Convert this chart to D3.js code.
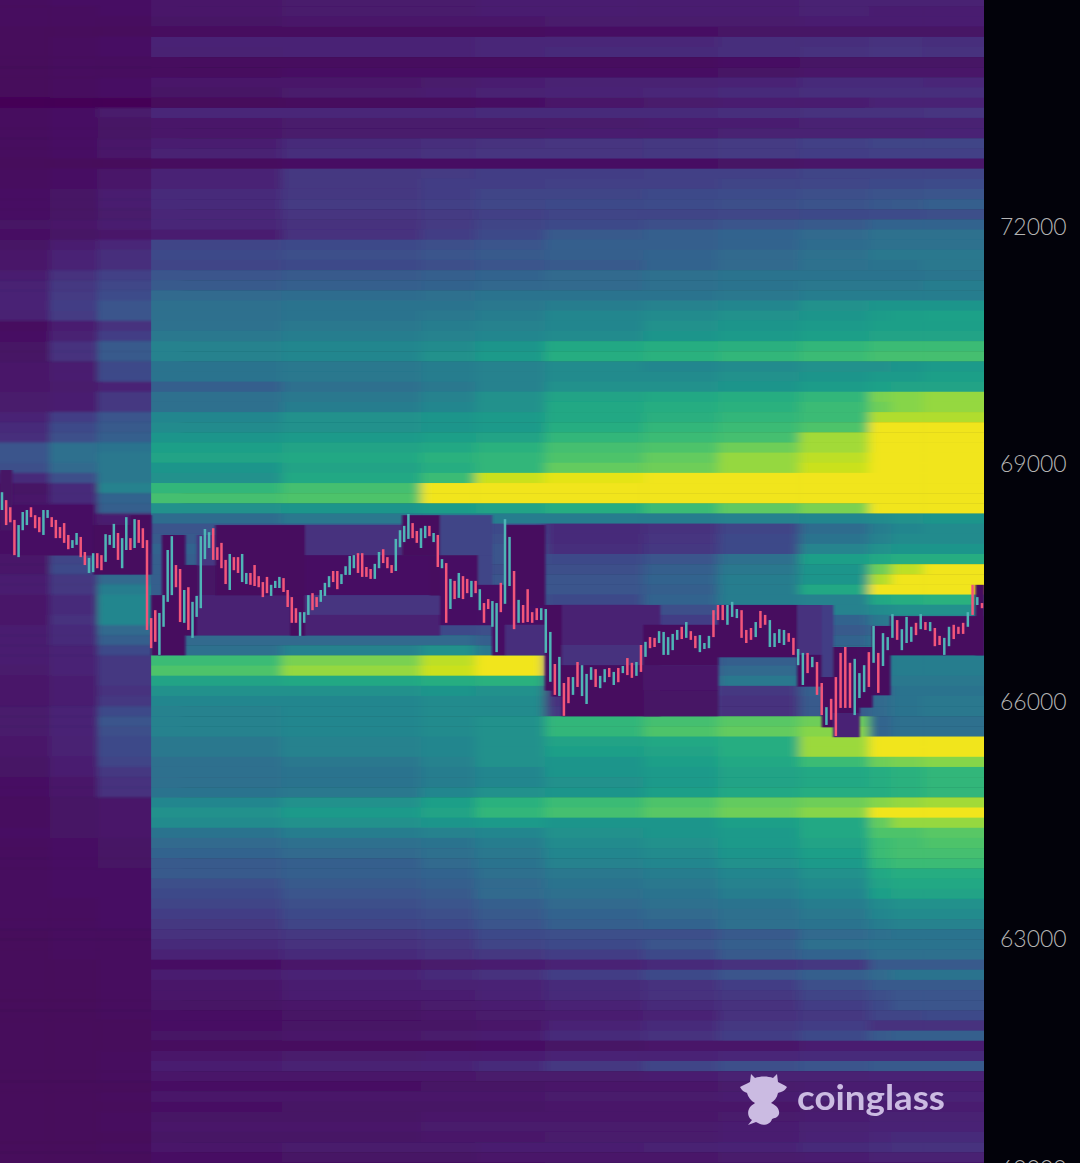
<!DOCTYPE html>
<html>
<head>
<meta charset="utf-8">
<script src="https://cdn.jsdelivr.net/npm/d3@7/dist/d3.min.js"></script>
<style>
  html, body { margin: 0; padding: 0; background: #02020a; overflow: hidden; }
  svg { display: block; }
</style>
</head>
<body>
<script>
var width = 1080, height = 1163, plotRight = 984;

var tickPrices = [72000, 69000, 66000, 63000, 60100];
var tickLabels = ['72000', '69000', '66000', '63000', '60000'];

// column boundaries of the heat map, in bar index
var colEdges = [-0.5, 11.4, 23, 36, 67.5, 101, 113.9, 129.8, 151.5, 168, 185.2, 200, 204.7, 211.5, 224.5];

// liquidation intensity 0-100, one line per price bin, top to bottom
var heat = [
[3,4,4,6,7,7,8,8,8,8,9,9,9,9],
[3,3,4,6,7,7,8,8,8,8,9,8,8,8],
[3,3,3,5,6,6,6,7,7,7,8,8,8,8],
[2,2,2,3,3,3,3,4,4,5,5,5,5,5],
[2,3,4,10,10,10,11,11,11,13,13,14,14,13],
[2,3,4,9,10,10,11,12,12,13,14,15,15,14],
[2,3,3,3,3,3,3,3,3,4,5,5,5,5],
[2,3,3,3,4,4,4,4,4,5,6,6,6,6],
[2,3,4,6,6,7,8,9,9,10,12,12,12,11],
[2,3,4,5,7,8,9,10,11,12,13,13,13,13],
[1,1,1,2,3,3,4,6,7,8,8,10,10,10],
[3,4,7,11,11,11,12,12,12,13,14,14,14,15],
[3,4,5,6,7,7,7,7,8,8,9,9,9,9],
[3,4,5,6,7,7,7,8,8,9,9,9,9,10],
[3,4,6,8,12,13,14,15,16,17,19,20,20,20],
[3,4,6,9,13,14,15,15,16,17,18,19,19,19],
[2,2,2,3,4,4,4,4,4,5,6,6,6,6],
[3,4,6,10,16,17,18,18,19,19,20,20,20,20],
[3,4,6,10,16,18,18,19,19,20,21,22,22,23],
[4,5,8,12,16,18,20,20,22,23,24,25,25,26],
[4,5,8,12,17,19,21,22,23,24,25,27,28,30],
[4,5,7,11,15,17,19,20,20,21,22,23,23,24],
[5,6,8,11,14,17,20,22,24,26,28,32,32,32],
[4,5,6,8,14,18,22,28,30,32,34,37,37,37],
[5,8,11,20,22,24,26,30,30,32,35,37,37,37],
[6,10,13,22,24,26,28,30,32,34,37,40,40,40],
[6,10,13,20,22,24,26,28,32,34,37,38,38,40],
[8,14,19,26,28,30,32,34,36,38,38,38,38,39],
[9,16,21,28,30,31,33,34,36,38,40,40,40,42],
[10,17,23,34,35,36,38,38,38,40,42,42,42,42],
[10,18,26,36,38,38,40,42,44,46,50,52,52,52],
[9,17,26,36,38,40,42,46,48,50,52,55,56,57],
[3,8,14,37,40,42,44,46,50,52,54,56,56,56],
[4,9,18,40,42,44,46,48,52,54,56,58,58,58],
[5,14,28,44,46,48,52,60,62,63,66,68,68,68],
[5,14,28,44,46,50,54,62,64,66,68,70,70,70],
[6,8,22,38,40,42,44,48,46,48,50,50,52,54],
[6,8,22,38,40,42,44,48,48,50,52,54,54,56],
[6,7,10,30,36,40,44,50,50,52,55,57,58,58],
[7,8,16,36,40,44,50,58,60,62,66,80,82,84],
[7,8,16,36,42,46,50,60,62,64,68,78,82,84],
[10,18,26,46,50,52,54,60,63,66,68,88,88,88],
[12,22,28,48,50,52,54,62,66,68,72,98,98,98],
[13,24,30,52,54,56,58,66,68,70,86,98,98,98],
[26,36,38,56,58,60,64,70,72,78,86,98,98,98],
[26,36,40,58,60,64,66,72,76,84,90,98,98,98],
[24,34,40,52,58,62,66,76,78,84,92,98,98,98],
[12,24,40,50,60,68,92,96,98,98,98,98,98,98],
[5,12,44,66,70,98,98,98,98,98,98,98,98,98],
[6,12,32,70,72,98,98,98,98,98,98,98,98,98],
[6,8,30,50,52,55,58,62,68,75,80,98,98,98],
[5,6,8,35,40,42,42,42,42,44,46,48,50,52],
[4,5,7,26,28,28,22,12,14,20,35,42,46,48],
[4,5,8,28,28,28,24,12,15,22,38,44,48,48],
[4,6,10,32,26,30,26,13,16,22,45,50,52,52],
[6,20,26,30,28,30,26,22,26,36,56,60,62,62],
[6,22,30,30,28,28,24,24,30,40,52,78,90,98],
[8,16,34,30,28,28,26,26,32,42,52,88,98,98],
[8,16,42,30,28,28,28,26,30,42,60,98,98,98],
[6,12,46,30,26,28,28,22,32,42,44,60,62,64],
[6,12,46,30,24,24,26,14,24,26,44,48,50,50],
[6,14,46,28,24,24,26,14,18,22,32,40,44,44],
[8,12,34,20,18,22,24,16,18,24,28,34,38,38],
[8,12,30,34,34,34,30,16,16,26,32,38,38,38],
[8,10,22,36,44,50,40,16,16,28,34,40,40,40],
[8,10,16,68,80,90,98,20,22,30,30,40,42,42],
[7,10,16,72,84,92,98,22,24,34,30,40,42,42],
[6,8,16,58,60,62,64,24,26,40,34,40,40,40],
[6,8,14,50,50,52,50,14,18,16,30,32,38,38],
[6,8,16,46,46,48,48,14,16,14,28,34,38,40],
[7,10,22,44,46,48,48,16,16,14,28,34,38,40],
[7,10,26,44,46,48,50,66,70,74,78,32,36,36],
[7,10,24,44,46,48,50,66,72,76,82,32,36,36],
[6,9,22,40,44,46,50,58,60,62,85,98,98,98],
[6,9,22,40,44,46,50,56,58,62,85,98,98,98],
[5,8,20,36,40,44,50,52,56,60,68,78,80,82],
[5,8,16,36,38,42,46,52,54,58,60,62,64,66],
[4,6,14,36,38,42,46,50,54,58,60,62,64,66],
[4,6,14,38,40,46,50,52,56,60,62,62,64,66],
[3,5,6,46,50,56,64,68,72,76,78,82,84,86],
[3,5,6,50,54,58,66,70,74,78,82,98,98,98],
[3,5,6,48,50,52,54,52,52,56,60,76,84,84],
[4,5,6,38,42,44,46,50,52,54,60,72,72,74],
[3,4,5,34,36,38,42,48,50,54,58,68,70,72],
[3,4,5,32,34,36,40,46,48,52,56,68,70,70],
[3,4,5,28,30,34,38,44,46,50,54,66,68,68],
[3,4,4,28,30,32,36,40,42,46,50,60,62,62],
[3,4,4,24,28,30,34,38,40,44,48,58,60,60],
[3,4,4,22,26,28,34,36,38,42,46,56,58,58],
[3,3,4,20,24,26,30,34,36,38,42,48,50,50],
[3,3,4,18,22,24,28,32,34,36,40,46,48,48],
[3,3,4,16,20,22,26,30,32,36,38,42,44,44],
[2,3,3,14,16,18,22,24,24,28,34,36,38,38],
[2,3,3,12,14,16,20,22,26,30,36,38,38,38],
[2,3,3,10,12,14,16,18,22,28,32,36,36,36],
[2,2,3,4,6,7,8,10,12,14,16,28,28,28],
[2,2,3,8,10,12,14,18,22,26,30,34,38,38],
[2,2,3,6,8,9,10,12,14,18,24,28,28,28],
[2,2,3,6,8,8,10,12,14,16,20,24,26,26],
[2,2,3,5,6,7,8,10,12,14,18,22,26,26],
[2,2,3,4,5,6,7,8,10,14,16,20,20,22],
[2,2,2,4,5,5,6,10,12,16,18,14,14,14],
[2,2,2,5,6,7,8,12,14,18,22,28,30,30],
[2,2,2,3,3,3,4,5,6,6,8,8,8,8],
[2,2,3,6,7,8,8,10,10,11,12,12,12,12],
[2,2,3,8,9,10,12,16,20,24,26,28,28,28],
[2,2,3,6,6,6,7,7,8,9,9,10,10,10],
[2,2,2,4,4,5,5,6,6,7,8,8,8,8],
[2,2,3,6,6,6,6,7,7,8,9,9,10,10],
[2,2,2,4,5,5,5,6,6,6,7,8,8,8],
[2,2,3,5,5,6,6,6,6,7,8,9,9,9],
[2,2,3,6,6,7,7,7,7,8,9,10,10,10],
[2,2,2,5,5,6,6,7,7,8,10,11,12,12],
[2,2,3,6,7,7,8,8,9,10,12,13,14,14],
[2,2,2,4,5,5,6,6,6,7,8,9,9,9],
[2,2,2,4,4,4,4,5,5,6,6,6,6,6]
];

// zones the price already swept: from bar, to bar, high, low, remaining intensity
var sweptFrom = [-0.5,2.4,22,30.9,36,38.6,44.2,47,47,47,51.5,69.6,73.2,73.2,73.2,73.2,96.5,103.1,105.5,105.5,114.6,114.6,117.9,121,121,121,129.8,131.3,133.5,133.5,133.5,151.5,151.5,151.5,168,184.8,184.8,190,190,192.4,192.4,198,200.7,204.5,222.6];
var sweptTo   = [2.4,22,30.9,36,38.6,44.2,47,51.5,51.5,73.2,73.2,73.2,96.5,103.1,105.5,105.5,105.5,105.5,117.9,114.6,117.9,117.9,121,129.8,129.8,129.8,131.3,133.5,155.2,151.5,155.2,168,168,168,184.8,190,190,192.4,192.4,198,198,200.7,204.5,224.5,224.5];
var sweptHigh = [68930,68490,68235,68360,67350,68110,67730,67730,68110,67350,68235,67350,68235,67855,67350,67100,68360,67855,68360,67855,67855,67480,67480,68235,67225,66975,67225,67225,67225,66720,66465,66975,66465,66150,67225,67225,66595,67225,66315,66695,65860,66695,66960,67085,67480];
var sweptLow  = [68170,67855,67615,67615,66595,66595,66845,67350,67730,66845,67350,66845,67855,67350,67100,66845,67855,67350,67855,66975,67480,66975,66595,67225,66975,66595,66150,66075,66720,66465,65825,66465,66150,65825,66570,66595,66200,66315,65685,65860,65560,65935,66090,66595,66595];
var sweptLevel = [5,4,3,3,3,3,3,5,16,9,3,3,14,4,15,9,3,3,20,4,20,4,4,3,4,13,3,3,9,14,3,3,6,5,3,14,3,18,3,3,10,3,3,3,3];

// bars, read left to right: 1 rising, 0 falling
var barHigh = [68650,68550,68460,68300,68235,68400,68425,68460,68360,68335,68425,68425,68335,68300,68210,68260,68110,68045,68135,68085,67895,67820,67880,67880,67855,68120,68110,68250,68135,68070,68335,68070,68310,68300,68195,68045,67060,67160,67125,67350,67920,68095,67730,67680,67415,67450,67265,67340,68095,68185,68145,68195,67955,68010,67795,67870,67830,67830,67870,67630,67630,67730,67590,67515,67580,67480,67530,67580,67565,67415,67325,67185,67135,67135,67350,67375,67325,67415,67505,67590,67655,67655,67615,67715,67845,67855,67880,
67880,67705,67680,67745,67895,67930,67830,67730,68060,68170,68225,68375,68260,68160,68195,68225,68225,68135,68110,67805,67755,67555,67530,67630,67590,67555,67530,67530,67425,67250,67300,67275,67250,67505,68310,68085,67655,67290,67225,67425,67135,67185,67185,67175,66885,66480,66570,66240,66315,66315,66505,66465,66355,66440,66415,66330,66415,66430,66380,66430,66455,66555,66495,66505,66720,66760,66820,66810,66895,66885,66820,66860,66910,66950,67010,66895,66835,66845,66745,66835,67160,67225,
67225,67225,67265,67175,67160,66910,66935,67010,67150,67100,67035,66870,66920,66910,66870,66810,66670,66620,66620,66570,66505,66240,65935,66040,66315,66620,66695,66495,66545,66365,66465,66630,66960,66620,66870,66820,67110,67035,66920,67075,66950,67000,67110,67010,67010,66935,66835,66810,66950,66975,66950,67000,67135,67480,67325,67250];
var barLow = [68425,68235,68270,67855,67830,68170,68235,68335,68195,68145,68110,68325,68210,68070,68070,68010,67930,67945,67985,67830,67730,67630,67640,67690,67665,67770,67985,67945,67795,67690,67920,67920,67945,68010,67945,66910,66680,66760,66595,66950,67265,67350,67450,67010,67000,66910,66810,67075,67185,67805,67945,67795,67795,67690,67490,67415,67665,67630,67515,67490,67480,67465,67450,67325,67375,67340,67440,67440,67390,67200,67000,67000,66835,67000,67100,67160,67200,67265,67340,67450,67515,67425,67490,67605,67605,67690,67630,
67580,67580,67555,67555,67690,67755,67690,67630,67655,67955,68020,68060,68070,68010,67945,68070,68095,68020,67705,67690,67000,67175,67300,67315,67300,67375,67325,67375,67160,67000,67175,66950,66630,67135,67240,67465,66920,67000,67000,67010,67000,67035,67035,66620,66255,66090,66075,65825,65985,66090,66190,66075,65975,66280,66190,66175,66250,66315,66215,66250,66365,66340,66305,66330,66380,66570,66680,66695,66745,66595,66595,66655,66785,66795,66810,66785,66680,66630,66670,66680,66820,67035,
67035,66975,67075,67060,66810,66745,66785,66820,66935,66975,66695,66695,66745,66720,66760,66595,66465,66215,66365,66440,66090,65835,65710,65775,65570,65925,65925,65925,65835,66050,66125,66190,66495,66115,66455,66655,66810,66785,66655,66745,66760,66845,66920,66910,66895,66705,66720,66595,66705,66795,66860,66860,66950,67100,67225,67185];
var barRise = [1,0,0,0,1,1,1,0,0,0,1,1,0,0,0,0,0,1,1,0,0,1,1,0,0,1,1,1,0,1,1,0,1,0,0,0,0,0,1,1,1,1,0,0,1,0,1,1,1,1,1,0,0,0,0,1,0,0,1,1,0,0,0,0,0,1,1,1,0,0,0,0,1,1,1,0,0,1,1,1,0,0,1,1,1,1,0,
0,0,0,1,1,0,0,0,1,1,1,1,0,0,1,1,0,1,0,1,0,1,0,1,0,0,1,0,1,0,0,1,1,0,1,1,0,1,0,0,0,0,1,1,1,0,1,0,0,1,0,1,1,1,0,1,1,0,1,0,1,0,0,1,0,1,0,0,1,1,1,1,1,0,1,0,0,1,1,1,0,0,0,1,1,1,0,
0,0,1,0,0,1,1,1,1,0,0,1,1,0,1,0,0,1,0,0,0,0,0,1,1,1,0,1,0,1,1,1,0,1,1,1,0,1,0,1,0,0,1,1,0,0,0,1,0,1,0,1,1,1,0,0];

var barColor = { 1: '#4fb4b6', 0: '#f2557a' };

var x = d3.scaleLinear().domain([0, 35, 86, 121, 168, 224]).range([2, 147, 358, 505, 718, 982]);
var y = d3.scaleLinear().domain([66000, 72000]).range([702, 227]);
var rowY = d3.scaleBand().domain(d3.range(heat.length)).range([-3.7, -3.7 + 10.14 * heat.length]);
var color = function(v) { return d3.interpolateViridis(v / 100); };

var svg = d3.select('body').append('svg')
    .attr('width', width)
    .attr('height', height);

var defs = svg.append('defs');
function blur(id, dev) {
  defs.append('filter').attr('id', id)
      .attr('x', '-3%').attr('y', '-3%').attr('width', '106%').attr('height', '106%')
    .append('feGaussianBlur').attr('stdDeviation', dev);
}
blur('softLeft', '3 1.2');
blur('softRight', '5.5 0.6');
blur('softer', '0.8 0.6');
blur('bars', '0.35');
blur('logoSoft', '0.5');
defs.append('clipPath').attr('id', 'plot')
  .append('rect').attr('width', plotRight).attr('height', height);
var splitCol = 3;
defs.append('clipPath').attr('id', 'rightPart')
  .append('rect').attr('x', x(colEdges[splitCol])).attr('width', plotRight).attr('height', height);

svg.append('rect').attr('width', width).attr('height', height).attr('fill', '#02020a');

var plot = svg.append('g').attr('clip-path', 'url(#plot)');

var cells = [];
heat.forEach(function(row, i) {
  row.forEach(function(v, j) { cells.push({ i: i, j: j, v: v }); });
});

// the first bins of the map start abruptly, so the two parts get blurred on their own
function drawCells(g, data) {
  g.selectAll('rect')
      .data(data)
    .enter().append('rect')
      .attr('x', function(d) { return x(colEdges[d.j]) - (d.j === splitCol || d.j === 0 ? 30 : 0); })
      .attr('width', function(d) {
        var extra = d.j === splitCol || d.j === 0 ? 30 : 0;
        if (d.j === splitCol - 1 || d.j === heat[0].length - 1) extra += 30;
        return x(colEdges[d.j + 1]) - x(colEdges[d.j]) + 0.5 + extra;
      })
      .attr('y', function(d) { return rowY(d.i); })
      .attr('height', rowY.bandwidth() + 0.5)
      .attr('fill', function(d) { return color(d.v); });
}

drawCells(plot.append('g').attr('filter', 'url(#softLeft)'),
    cells.filter(function(d) { return d.j < splitCol; }));
drawCells(plot.append('g').attr('clip-path', 'url(#rightPart)').append('g').attr('filter', 'url(#softRight)'),
    cells.filter(function(d) { return d.j >= splitCol; }));

plot.append('g').attr('filter', 'url(#softer)').selectAll('rect')
    .data(d3.range(sweptFrom.length))
  .enter().append('rect')
    .attr('x', function(k) { return x(sweptFrom[k]); })
    .attr('width', function(k) { return x(sweptTo[k]) - x(sweptFrom[k]) + 0.4; })
    .attr('y', function(k) { return y(sweptHigh[k]); })
    .attr('height', function(k) { return y(sweptLow[k]) - y(sweptHigh[k]) + 0.4; })
    .attr('fill', function(k) { return color(sweptLevel[k]); });

plot.append('g').attr('filter', 'url(#bars)').selectAll('line')
    .data(d3.range(barHigh.length))
  .enter().append('line')
    .attr('x1', function(k) { return x(k); })
    .attr('x2', function(k) { return x(k); })
    .attr('y1', function(k) { return y(barHigh[k]); })
    .attr('y2', function(k) { return y(barLow[k]); })
    .attr('stroke', function(k) { return barColor[barRise[k]]; })
    .attr('stroke-width', 2.5);

// watermark
var logo = svg.append('g').attr('fill', '#cbbbe2').attr('filter', 'url(#logoSoft)');
logo.append('path')
    .attr('d', 'M751,1074 L755,1078 C760,1076 768,1076 773,1078 L777,1074 L778,1082 C781,1084 785,1085 787,1087 C785,1091 781,1092 778,1093 C777,1098 774,1101 771,1103 C776,1105 780,1109 779,1114 C778,1118 774,1118 772,1119 C771,1124 764,1126 760,1124 L756,1122 L748,1125 L752,1120 C747,1117 747,1110 751,1106 C752,1105 754,1104 755,1103 C751,1101 748,1097 747,1093 C745,1092 742,1091 740,1087 C743,1085 747,1084 750,1082 Z');
logo.append('text')
    .attr('x', 797)
    .attr('y', 1110)
    .style('font-family', 'Lato, sans-serif')
    .style('font-weight', 700)
    .style('font-size', '35px')
    .attr('textLength', 148)
    .attr('lengthAdjust', 'spacingAndGlyphs')
    .text('coinglass');

// price axis
var axis = d3.axisRight(y)
    .tickValues(tickPrices)
    .tickSize(0)
    .tickPadding(0)
    .tickFormat(function(d, i) { return tickLabels[i]; });

var axisG = svg.append('g')
    .attr('transform', 'translate(1000,0)')
    .call(axis);
axisG.select('.domain').remove();
axisG.selectAll('text')
    .attr('fill', '#b4b4b4')
    .style('font-family', 'Lato, sans-serif')
    .style('font-weight', 300)
    .style('font-size', '23px');
</script>
</body>
</html>
